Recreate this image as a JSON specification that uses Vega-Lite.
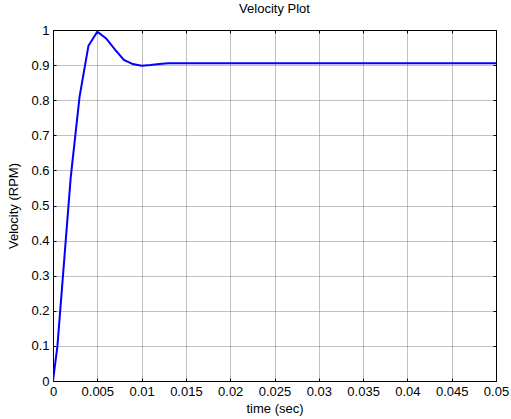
{
  "$schema": "https://vega.github.io/schema/vega-lite/v6.json",
  "width": 443,
  "height": 351,
  "autosize": {"type": "none"},
  "padding": {"left": 53, "top": 30, "right": 15, "bottom": 38},
  "background": "white",
  "title": {"text": "Velocity Plot", "font": "Liberation Sans", "fontSize": 13, "fontWeight": "normal", "color": "#000", "offset": 8, "anchor": "middle"},
  "config": {
    "view": {"stroke": "#000", "strokeWidth": 1},
    "axis": {
      "labelFont": "Liberation Sans", "labelFontSize": 13, "labelColor": "#000",
      "titleFont": "Liberation Sans", "titleFontSize": 13, "titleFontWeight": "normal", "titleColor": "#000",
      "domainColor": "#000", "tickColor": "#000", "tickSize": -3,
      "gridColor": "#777", "gridDash": [1, 1], "gridOpacity": 0.9
    }
  },
  "data": {"values": [
    {"t": 0, "v": 0},
    {"t": 0.0005, "v": 0.1},
    {"t": 0.002, "v": 0.58},
    {"t": 0.003, "v": 0.81},
    {"t": 0.004, "v": 0.955},
    {"t": 0.005, "v": 0.995},
    {"t": 0.006, "v": 0.976},
    {"t": 0.007, "v": 0.944},
    {"t": 0.008, "v": 0.915},
    {"t": 0.009, "v": 0.903},
    {"t": 0.010, "v": 0.898},
    {"t": 0.011, "v": 0.900},
    {"t": 0.012, "v": 0.903},
    {"t": 0.013, "v": 0.905},
    {"t": 0.02, "v": 0.905},
    {"t": 0.03, "v": 0.905},
    {"t": 0.04, "v": 0.905},
    {"t": 0.05, "v": 0.905}
  ]},
  "layer": [
    {
      "mark": {"type": "line", "color": "#0000FF", "strokeWidth": 2, "clip": true},
      "encoding": {
        "x": {"field": "t", "type": "quantitative", "scale": {"domain": [0, 0.05], "nice": false},
          "axis": {"orient": "bottom", "title": "time (sec)", "values": [0,0.005,0.01,0.015,0.02,0.025,0.03,0.035,0.04,0.045,0.05], "format": "~g", "labelPadding": 7, "titlePadding": 4, "labelFlush": false}},
        "y": {"field": "v", "type": "quantitative", "scale": {"domain": [0, 1], "nice": false},
          "axis": {"orient": "left", "title": "Velocity (RPM)", "values": [0,0.1,0.2,0.3,0.4,0.5,0.6,0.7,0.8,0.9,1], "format": "~g", "labelPadding": 7, "titlePadding": 10, "labelFlush": false}}
      }
    },
    {
      "mark": {"type": "line", "opacity": 0},
      "encoding": {
        "x": {"field": "t", "type": "quantitative", "axis": {"orient": "top", "title": null, "labels": false, "grid": false, "values": [0,0.005,0.01,0.015,0.02,0.025,0.03,0.035,0.04,0.045,0.05]}},
        "y": {"field": "v", "type": "quantitative", "axis": {"orient": "right", "title": null, "labels": false, "grid": false, "values": [0,0.1,0.2,0.3,0.4,0.5,0.6,0.7,0.8,0.9,1]}}
      }
    }
  ],
  "resolve": {"axis": {"x": "independent", "y": "independent"}}
}
